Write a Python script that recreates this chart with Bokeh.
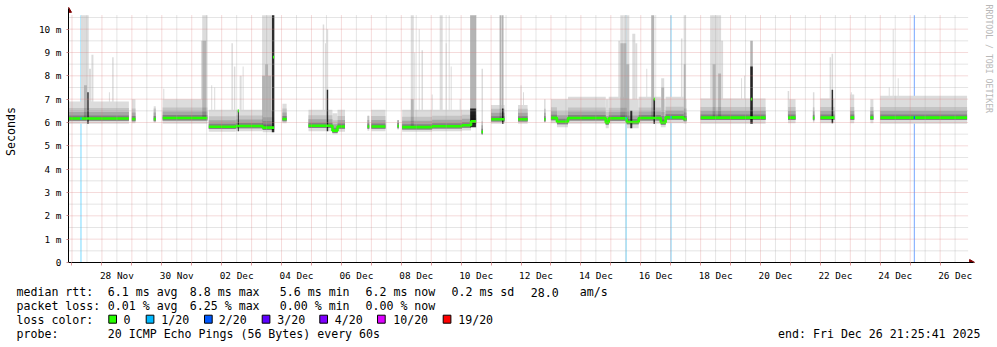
import math
import numpy as np
from bokeh.plotting import figure
from bokeh.models import Range1d, FixedTicker
from bokeh.layouts import column
from bokeh.embed import file_html
from bokeh.resources import INLINE
from bokeh.core.properties import value

FONT = "DejaVu Sans Mono"

# ---------------- data (time in days since 2025-11-26 00:00, values in ms) ----------------
piece_start = [0.9, 3.0, 3.73, 4.03, 5.57, 6.47, 7.37, 8.03, 8.9, 9.7, 9.87, 10.87, 11.0, 11.87,
               12.03, 13.03, 14.03, 14.33, 14.68, 15.0, 15.9, 16.77, 17.0, 17.2, 17.57, 18.83,
               18.93, 19.53, 19.93, 20.67, 20.83, 21.43, 22.0, 24.92, 25.75, 26.0, 27.0, 27.67, 28.0]
piece_end = [2.9, 3.12, 3.8, 5.52, 6.47, 7.37, 7.75, 8.17, 9.7, 9.87, 10.12, 10.93, 11.47, 11.92,
             13.03, 14.03, 14.33, 14.5, 14.73, 15.45, 16.22, 16.82, 17.2, 17.57, 18.83, 18.93,
             19.53, 19.93, 20.67, 20.83, 21.43, 21.53, 24.17, 25.17, 25.8, 26.47, 27.13, 27.77, 30.9]
piece_median = [6.17, 6.15, 6.15, 6.19, 5.82, 5.85, 5.78, 6.15, 5.86, 5.65, 5.83, 5.83, 5.83, 5.85,
                5.8, 5.84, 5.88, 6.05, 5.6, 6.14, 6.14, 6.14, 6.2, 6.03, 6.19, 6.0,
                6.18, 6.02, 6.19, 6.0, 6.22, 6.15, 6.21, 6.21, 6.2, 6.21, 6.21, 6.21, 6.21]
piece_top = [6.9, 7.0, 6.7, 7.0, 6.55, 6.55, 6.5, 6.8, 6.55, 6.4, 6.55, 6.3, 6.55, 6.1,
             6.55, 6.55, 6.55, 6.7, 8.3, 6.75, 6.75, 7.0, 7.0, 7.0, 7.1, 7.0,
             7.1, 7.0, 7.1, 7.0, 7.1, 7.0, 7.03, 7.0, 7.3, 7.03, 7.2, 7.0, 7.15]
piece_low = [5.95, 5.97, 6.0, 5.95, 5.6, 5.62, 5.58, 5.97, 5.62, 5.5, 5.6, 5.65, 5.62, 5.7,
             5.6, 5.62, 5.66, 5.8, 5.5, 5.95, 5.95, 6.0, 5.97, 5.8, 5.95, 5.75,
             5.95, 5.75, 5.95, 5.8, 5.97, 5.95, 5.95, 5.97, 6.0, 5.97, 5.97, 5.97, 5.95]
# inner smoke quantile bands, read as offsets from the median
band_up_offset = [0.45, 0.28, 0.13]
band_down_offset = 0.1

# tall outlier columns: time, duration (h), top of light smoke, top of mid smoke, top of dark smoke
spike_d = [1.35, 1.45, 1.533, 1.6, 1.683, 2.25, 2.367, 4.067, 5.333, 5.417, 5.5, 5.667, 5.767,
           6.35, 6.433, 6.557, 6.633, 6.717, 7.4, 7.5, 7.6, 7.717, 9.4, 9.467, 9.533, 12.367,
           12.45, 12.6, 12.7, 13.033, 13.333, 13.5, 13.6, 13.667, 13.967, 14.4, 15.317, 15.39,
           16.0, 16.083, 19.283, 19.367, 19.467, 19.567, 19.683, 19.767, 19.85, 20.2, 20.4, 20.45,
           20.733, 21.367, 21.467, 22.367, 22.45, 22.533, 22.633, 22.717, 23.367, 23.467, 23.7,
           24.933, 26.333, 26.4, 27.033, 28.3, 28.433, 28.6]
spike_h = [2.4, 2.4, 1.2, 1.6, 1.6, 0.8, 1.2, 0.8, 1.2, 3.2, 1.2, 0.8, 0.8,
           1.2, 1.2, 0.8, 1.6, 0.8, 2.4, 2.4, 2.4, 2.0, 1.2, 0.8, 1.2, 2.4,
           0.8, 0.8, 1.2, 0.8, 2.4, 0.8, 0.8, 0.8, 0.8, 4.8, 1.6, 1.2,
           0.8, 0.8, 1.6, 2.4, 2.4, 2.4, 1.6, 2.4, 1.6, 0.8, 2.4, 1.2,
           2.4, 1.2, 1.6, 2.4, 2.4, 2.4, 2.4, 1.6, 0.8, 0.8, 2.0,
           1.2, 1.2, 1.2, 0.8, 0.8, 0.8, 0.8]
spike_top = [10.6, 10.6, 10.6, 8.3, 8.9, 7.3, 8.8, 7.45, 9.5, 10.6, 10.6, 7.6, 7.5,
             9.4, 8.4, 6.5, 8.0, 8.4, 10.6, 10.6, 10.6, 10.6, 10.2, 9.4, 10.0, 10.6,
             9.0, 10.0, 9.1, 7.2, 10.6, 9.4, 10.6, 8.4, 7.0, 10.6, 10.6, 10.6,
             7.6, 7.3, 9.5, 10.6, 10.6, 10.6, 6.5, 9.8, 9.4, 8.3, 10.6, 7.0,
             7.9, 9.6, 10.6, 10.6, 10.6, 10.6, 10.6, 9.5, 7.9, 8.0, 9.5,
             7.35, 8.8, 8.95, 7.3, 7.5, 10.0, 7.9]
spike_mid = [0, 7.6, 0, 0, 0, 0, 0, 0, 0, 9.5, 0, 0, 0,
             0, 0, 0, 0, 0, 8.0, 8.5, 8.0, 0, 0, 0, 0, 7.0,
             0, 0, 0, 0, 0, 0, 0, 0, 0, 10.6, 10.6, 10.6,
             0, 0, 0, 9.4, 9.4, 8.5, 0, 0, 0, 0, 10.6, 0,
             7.5, 0, 8.5, 0, 8.5, 0, 8.1, 0, 0, 0, 9.5,
             0, 0, 0, 0, 0, 0, 0]
spike_dark = [0, 0, 7.3, 0, 0, 0, 0, 0, 0, 0, 0, 0, 0,
              0, 0, 6.5, 0, 0, 0, 0, 0, 10.6, 0, 0, 7.4, 0,
              0, 0, 0, 0, 0, 0, 0, 0, 0, 6.6, 0, 6.6,
              0, 0, 0, 0, 0, 0, 6.5, 0, 0, 0, 0, 7.0,
              0, 0, 0, 0, 0, 0, 0, 0, 0, 0, 8.4,
              0, 0, 7.4, 0, 0, 0, 0]

# single-column medians that sit far above the usual level
blip_d = [6.557, 7.733, 20.45, 23.7]
blip_ms = [6.5, 8.8, 7.0, 7.0]

# packet-loss events
loss_d = [1.3, 19.51, 21.01, 29.14]
loss_level = ["1/20", "1/20", "1/20", "2/20"]

loss_labels = ["0", "1/20", "2/20", "3/20", "4/20", "10/20", "19/20"]
loss_colors = ["#26ff00", "#00b8ff", "#0059ff", "#5e00ff", "#7e00ff", "#dd00ff", "#ff0000"]

x_label_days = [2.5, 4.5, 6.5, 8.5, 10.5, 12.5, 14.5, 16.5, 18.5, 20.5, 22.5, 24.5, 26.5, 28.5, 30.5]
x_labels = ["28 Nov", "30 Nov", "02 Dec", "04 Dec", "06 Dec", "08 Dec", "10 Dec", "12 Dec",
            "14 Dec", "16 Dec", "18 Dec", "20 Dec", "22 Dec", "24 Dec", "26 Dec"]
y_ticks = [0, 1, 2, 3, 4, 5, 6, 7, 8, 9, 10]
y_labels = ["0", "1 m", "2 m", "3 m", "4 m", "5 m", "6 m", "7 m", "8 m", "9 m", "10 m"]

rtt_stats = ["6.1 ms avg", "8.8 ms max", "5.6 ms min", "6.2 ms now", "0.2 ms sd", "28.0", "am/s"]
loss_stats = ["0.01 % avg", "6.25 % max", "0.00 % min", "0.00 % now"]
probe_text = "20 ICMP Echo Pings (56 Bytes) every 60s"
end_text = "end: Fri Dec 26 21:25:41 2025"
watermark = "RRDTOOL / TOBI OETIKER"

# ---------------- figure ----------------
H = 24.0            # x axis unit: hours since 26 Nov 00:00
PXH = 0.8           # hours per pixel (30 days over 900 px)
PXV = 23.6          # pixels per ms
X0 = 0.9 * H - 0.5 * PXH          # left edge of the frame (graph start, px 66)
X1 = X0 + 931 * PXH               # frame spans to the right edge of the page
Y0, YTOP = 0.0, 265 / PXV         # frame spans from the x axis to the top of the page
XG = X0 + 902 * PXH               # end of the graph area
Y1 = 250 / PXV                    # top of the graph area
XTIP = X0 + 907 * PXH             # arrow tips
YTIP = 257 / PXV

p = figure(width=997, height=283, x_range=Range1d(X0, X1), y_range=Range1d(Y0, YTOP),
           min_border_left=66, min_border_right=0, min_border_top=0, min_border_bottom=18,
           output_backend="svg", toolbar_location=None,
           background_fill_color="white", border_fill_color="white")
p.outline_line_color = None
p.frame_align = False
for g in p.xgrid + p.ygrid:
    g.visible = False

ps = np.array(piece_start) * H
pe = np.array(piece_end) * H
pm = np.array(piece_median)
pt = np.array(piece_top)
pl = np.array(piece_low)

def piece_of(xh):
    return int(np.searchsorted(ps, xh, side="right") - 1)

# loss background lines
lcol = dict(zip(loss_labels, loss_colors))
lx = np.array(loss_d) * H
p.segment(x0=lx, x1=lx, y0=0, y1=Y1,
          line_color=[lcol[l] for l in loss_level], line_alpha=0.45, line_width=1.2)

# spikes: light part
sx = np.array(spike_d) * H
sw = np.array(spike_h)
sbase = np.array([pm[piece_of(x)] for x in sx])
slow = np.array([pl[piece_of(x)] for x in sx])
stop = np.minimum(np.array(spike_top), Y1)
p.quad(left=sx - sw / 2, right=sx + sw / 2, bottom=sbase, top=stop,
       fill_color="#dcdcdc", line_color=None)

# smoke bands
p.quad(left=ps, right=pe, bottom=pl, top=pt, fill_color="#dcdcdc", line_color=None)
band_cols = ["#c4c4c4", "#a6a6a6", "#828282"]
for off, c in zip(band_up_offset, band_cols):
    top = np.minimum(pm + off, pt)
    bot = np.maximum(pm - band_down_offset, pl)
    p.quad(left=ps, right=pe, bottom=bot, top=top, fill_color=c, line_color=None)

# spikes: mid and dark parts
mid = np.array(spike_mid)
mk = mid > 0
p.quad(left=(sx - sw / 2)[mk], right=(sx + sw / 2)[mk], bottom=sbase[mk],
       top=np.minimum(mid[mk], Y1), fill_color="black", fill_alpha=0.18, line_color=None)
dark = np.array(spike_dark)
dk = dark > 0
p.quad(left=(sx - sw / 2)[dk], right=(sx + sw / 2)[dk], bottom=slow[dk],
       top=np.minimum(dark[dk], Y1), fill_color="black", fill_alpha=0.8, line_color=None)

# median line (step line over contiguous pieces)
xs, ys = [], []
cx, cy = [], []
for i in range(len(ps)):
    if cx and abs(ps[i] - cx[-1]) > 1e-6:
        xs.append(cx); ys.append(cy); cx, cy = [], []
    cx += [ps[i], pe[i]]
    cy += [pm[i], pm[i]]
xs.append(cx); ys.append(cy)
p.multi_line(xs=xs, ys=ys, line_color=loss_colors[0], line_width=2.6)

bx = np.array(blip_d) * H
p.segment(x0=bx - 0.5, x1=bx + 0.5, y0=blip_ms, y1=blip_ms, line_color=loss_colors[0], line_width=2.6)
lm = [pm[piece_of(x)] for x in lx]
p.segment(x0=lx - 0.5, x1=lx + 0.5, y0=lm, y1=lm,
          line_color=[lcol[l] for l in loss_level], line_width=2.6)

# dotted grid (rrdtool draws it over the data, within the graph area only)
day_lines = [d * H for d in range(1, 31)]
half_lines = [(d + 0.5) * H for d in range(1, 31)]
v_major = [float(v) for v in range(1, 11)]
v_minor = [v + 0.5 for v in range(0, 11)]
GRID_MINOR, GRID_MAJOR = "#a8a8a8", "#dc7b7b"
p.segment(x0=half_lines, x1=half_lines, y0=0, y1=Y1, line_color=GRID_MINOR, line_alpha=0.6,
          line_dash="1 1", line_width=1)
p.segment(x0=X0, x1=XG, y0=v_minor, y1=v_minor, line_color=GRID_MINOR, line_alpha=0.6,
          line_dash="1 1", line_width=1)
p.segment(x0=day_lines, x1=day_lines, y0=0, y1=Y1, line_color=GRID_MAJOR, line_alpha=0.55,
          line_dash="1 1", line_width=1)
p.segment(x0=X0, x1=XG, y0=v_major, y1=v_major, line_color=GRID_MAJOR, line_alpha=0.55,
          line_dash="1 1", line_width=1)

# axes
xa = p.xaxis[0]
label_hours = [int(round(d * H)) for d in x_label_days]
xa.ticker = FixedTicker(ticks=label_hours, minor_ticks=day_lines)
xa.bounds = (X0, XTIP)
xa.major_label_overrides = {h: t for h, t in zip(label_hours, x_labels)}
xa.major_tick_line_color = None
xa.major_tick_out = 0
xa.major_tick_in = 0
xa.minor_tick_out = 3
xa.minor_tick_in = 0
xa.minor_tick_line_color = "#e09a9a"
xa.major_label_standoff = 4
xa.major_label_text_font = FONT
xa.major_label_text_font_size = "9.4px"
xa.major_label_text_color = "black"
xa.axis_line_color = "black"

ya = p.yaxis[0]
ya.ticker = FixedTicker(ticks=y_ticks, minor_ticks=[])
ya.bounds = (0, YTIP)
ya.major_label_overrides = {v: t for v, t in zip(y_ticks, y_labels)}
ya.major_tick_out = 2
ya.major_tick_in = 0
ya.major_tick_line_color = "#c98585"
ya.minor_tick_line_color = None
ya.major_label_standoff = 5
ya.major_label_text_font = FONT
ya.major_label_text_font_size = "9.4px"
ya.major_label_text_color = "black"
ya.axis_line_color = "black"
ya.axis_label = "Seconds"
ya.axis_label_text_font = FONT
ya.axis_label_text_font_size = "11.6px"
ya.axis_label_text_font_style = "normal"
ya.axis_label_text_color = "black"
ya.axis_label_standoff = 18

# arrow heads at the ends of both axes
ARROW = "#7f0000"
p.scatter(x=[X0], y=[YTIP - 2.2 / PXV], marker="triangle", size=6, fill_color=ARROW, line_color=ARROW)
p.scatter(x=[XTIP - 2.2 * PXH], y=[0], marker="triangle", angle=-math.pi / 2, size=6,
          fill_color=ARROW, line_color=ARROW)

# vertical watermark at the right edge
p.text(x=[X0 + 922.5 * PXH], y=[206 / PXV], text=[watermark], angle=-math.pi / 2,
       text_align="center", text_baseline="middle", text_font=value(FONT),
       text_font_size="8.2px", text_color="#b8b8b8")

# ---------------- legend block (coordinates = page pixels) ----------------
q = figure(width=997, height=64, x_range=Range1d(0, 997), y_range=Range1d(347, 283),
           x_axis_type=None, y_axis_type=None, min_border=0,
           output_backend="svg", toolbar_location=None,
           background_fill_color="white", border_fill_color="white")
q.outline_line_color = None
q.frame_align = False
q.xgrid.visible = False
q.ygrid.visible = False

r1, r2, r3, r4 = 291.7, 305.7, 319.0, 333.3
cols = [107.3, 189.3, 279.3, 365.0, 451.0, 530.3, 579.3]
tx, ty, tt = [], [], []
def put(x, y, t):
    tx.append(x); ty.append(y); tt.append(t)
put(16, r1, "median rtt:")
for x, t in zip(cols, rtt_stats):
    put(x, r1, t)
put(16, r2, "packet loss:")
for x, t in zip(cols, loss_stats):
    put(x, r2, t)
put(16, r3, "loss color:")
box_x = [108.3, 145.7, 204.0, 261.7, 319.3, 377.0, 442.7]
lab_x = [123.0, 160.7, 218.3, 276.7, 334.3, 392.7, 457.7]
for x, t in zip(lab_x, loss_labels):
    put(x, r3, t)
put(16, r4, "probe:")
put(107.3, r4, probe_text)

q.text(x=tx, y=ty, text=tt, text_font=value(FONT), text_font_size="11.6px",
       text_baseline="middle", text_align="left", text_color="black")
q.text(x=[980], y=[r4], text=[end_text], text_font=value(FONT), text_font_size="11.6px",
       text_baseline="middle", text_align="right", text_color="black")
bx0 = np.array(box_x)
q.quad(left=bx0, right=bx0 + 7.7, top=[314.7] * 7, bottom=[322.7] * 7,
       fill_color=loss_colors, line_color="black", line_width=1)

open("out.html", "w").write(file_html(column(p, q, spacing=0), INLINE))
